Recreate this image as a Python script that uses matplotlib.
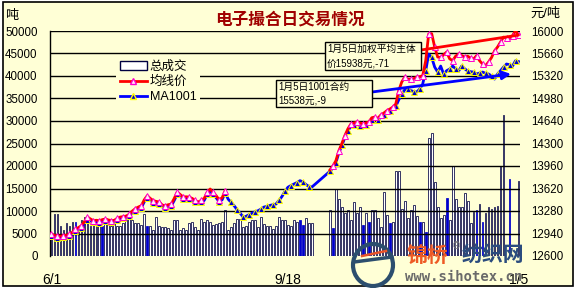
import numpy as np
import matplotlib
matplotlib.use("Agg")
import matplotlib.pyplot as plt
from matplotlib.patches import Rectangle, Ellipse
from matplotlib.lines import Line2D

plt.rcParams['font.family'] = ['Liberation Sans', 'Noto Sans CJK SC', 'DejaVu Sans']

# ---------------- data ----------------
title = "电子撮合日交易情况"
left_unit = "吨"
right_unit = "元/吨"
x_tick_days = [0, 79, 156]
x_tick_labels = ["6/1", "9/18", "1/5"]
series_names = ["总成交", "均线价", "MA1001"]

volume = [
    5000, 9250, 9250, 6660, 5800, 7250, 6660, 7620, 7620, 6360,
    7990, 8730, 7250, 6660, 7620, 6900, 7620, 6660, 7620, 7620,
    6660, 7620, 6660, 6660, 7400, 7990, 9250, 7990, 7250, 7250,
    6800, 9250, 6660, 6660, 5770, 8580, 6660, 6510, 6510, 6200,
    5770, 7990, 7990, 5770, 6300, 5770, 7250, 7620, 6510, 5770,
    8210, 7620, 7990, 7620, 7000, 7100, 7250, 7620, 10200, 5770,
    6510, 7250, 8140, 8140, 6510, 6660, 7620, 7990, 7990, 6500,
    8600, 7100, 6660, 6660, 6000, 6660, 8700, 7990, 7990, 6900,
    6660, 8000, 7620, 8000, 6880, 8360, 7250, 7250, 0, 0,
    0, 0, 0, 10200, 6140, 14870, 12650, 10950, 9470, 10200,
    8000, 11910, 9470, 10950, 6880, 9470, 7620, 10200, 10200, 8360,
    6500, 14280, 9100, 7250, 7620, 18870, 18870, 10360, 12210, 8360,
    10200, 11390, 9000, 7620, 7620, 5400, 26200, 27300, 16500, 10950,
    8360, 9100, 12900, 8000, 20100, 12580, 10950, 10950, 13900, 12210,
    7250, 9840, 10200, 11540, 7620, 9470, 10950, 10360, 10950, 11100,
    19900, 31400, 0, 17100, 0, 0, 16700,
]
blue_bar_days = [8, 17, 32, 83, 84, 94, 104, 106, 113, 123, 125, 132, 142, 144, 153]

avg_price = [
    12932, 12910, 12905, 12900, 12907, 12915, 12930, 12960, 13008, 13030,
    13058, 13120, 13189, 13160, 13133, 13140, 13133, 13150, 13159, 13145,
    13135, 13140, 13170, 13189, 13195, 13205, 13230, 13280, 13315, 13340,
    13360, 13450, 13511, 13470, 13436, 13425, 13416, 13370, 13360, 13375,
    13385, 13470, 13567, 13530, 13491, 13495, 13490, 13470, 13440, 13416,
    13440, 13470, 13560, 13612, 13560, 13511, 13450, 13480, 13587, None,
    None, None, None, None, None, None, None, None, None, None,
    None, None, None, None, None, None, None, None, None, None,
    None, None, None, None, None, None, None, None, None, None,
    None, None, None, 13900, 13960, 14040, 14191, 14300, 14420, 14520,
    14594, 14610, 14625, 14610, 14594, 14610, 14625, 14690, 14700, 14680,
    14730, 14760, 14795, 14820, 14850, 14896, 15100, 15229, 15304, 15274,
    15270, 15280, 15304, 15310, 15325, 15551, 15954, 15960, 15758, 15607,
    15600, 15640, 15682, 15580, 15551, 15620, 15652, 15630, 15607, 15620,
    15590, 15577, 15627, 15551, 15501, 15476, 15531, 15600, 15700, 15758,
    15833, 15908, 15890, 15878, 15929, 16004, 15938,
]

ma1001 = [
    12900, 12880, 12870, 12875, 12880, 12890, 12905, 12935, 12975, 13000,
    13030, 13090, 13150, 13130, 13110, 13110, 13105, 13120, 13130, 13120,
    13110, 13115, 13140, 13160, 13170, 13180, 13200, 13250, 13285, 13310,
    13330, 13420, 13480, 13440, 13405, 13395, 13385, 13340, 13330, 13345,
    13355, 13440, 13535, 13500, 13460, 13465, 13460, 13440, 13410, 13385,
    13410, 13440, 13530, 13580, 13530, 13480, 13420, 13450, 13555, 13460,
    13410, 13360, 13300, 13250, 13189, 13200, 13225, 13245, 13270, 13284,
    13310, 13340, 13350, 13365, 13375, 13385, 13440, 13500, 13580, 13640,
    13665, 13688, 13710, 13738, 13720, 13680, 13650, 13643, None, None,
    None, None, None, 13880, 13930, 14010, 14160, 14270, 14390, 14490,
    14560, 14580, 14590, 14570, 14560, 14575, 14590, 14650, 14670, 14650,
    14700, 14730, 14765, 14790, 14821, 14860, 14960, 15048, 15110, 15123,
    15100, 15085, 15078, 15123, 15199, 15400, 15652, 15600, 15455, 15380,
    15470, 15350, 15400, 15425, 15470, 15430, 15395, 15470, 15430, 15395,
    15385, 15380, 15350, 15365, 15380, 15360, 15350, 15320, 15274, 15350,
    15400, 15455, 15501, 15490, 15470, 15551, 15538,
]

note_main = "1月5日加权平均主体\n价15938元,-71"
note_1001 = "1月5日1001合约\n15538元,-9"

# ---------------- figure ----------------
W, H = 577, 288
BG = "#FFFFD6"
fig = plt.figure(figsize=(W / 100, H / 100), dpi=100, facecolor="white")
fig.add_artist(Rectangle((3 / W, 2 / H), 570 / W, 284 / H, transform=fig.transFigure,
                         facecolor=BG, edgecolor="black", lw=1.2, zorder=-10))

ax = fig.add_axes([50 / W, 32 / H, 470 / W, 225 / H])
ax.set_facecolor("none")
days = np.arange(len(volume))
vol = np.array(volume, dtype=float)
bar_colors = ["#0000CC" if d in blue_bar_days else "white" for d in days]
bar_edges = ["#0000CC" if d in blue_bar_days else "#000040" for d in days]
ax.bar(days, vol, width=0.6, color=bar_colors, edgecolor=bar_edges, linewidth=0.55, zorder=2)
ax.set_xlim(-0.5, len(volume) - 0.5)
ax.set_ylim(0, 50000)
yt = np.arange(0, 50001, 5000)
ax.set_yticks(yt)
ax.set_yticklabels([str(v) for v in yt])
for v in yt[1:]:
    ax.axhline(v, color="black", lw=1.0, zorder=3)
ax.tick_params(axis="y", length=0, pad=9, labelsize=8.3)
ax.set_xticks(x_tick_days)
ax.set_xticklabels(x_tick_labels)
ax.tick_params(axis="x", length=0, pad=12, labelsize=10)
for s in ["top", "right", "bottom"]:
    ax.spines[s].set_visible(False)
ax.spines["left"].set_linewidth(1.0)

ax2 = ax.twinx()
ax2.set_ylim(12600, 16000)
rt = np.arange(12600, 16001, 340)
ax2.set_yticks(rt)
ax2.set_yticklabels([str(v) for v in rt])
ax2.tick_params(axis="y", length=0, pad=8, labelsize=8.3)
for s in ["top", "right", "bottom", "left"]:
    ax2.spines[s].set_visible(False)

ma = np.array(ma1001, dtype=float)
ok = ~np.isnan(ma)
ax2.plot(days[ok], ma[ok], color="#0000FF", lw=2, marker="^", ms=4.5,
         mfc="#0000CC", mec="#FFFF00", mew=0.7, markevery=2, zorder=4, label=series_names[2])
avg = np.array(avg_price, dtype=float)
ax2.plot(days, avg, color="#FF0000", lw=2, marker="^", ms=4.5,
         mfc="#FFF0F8", mec="#FF00CC", mew=0.7, markevery=2, zorder=5, label=series_names[1])

# legend
handles = [Rectangle((0, 0), 1, 1, facecolor="white", edgecolor="#000040", lw=1),
           Line2D([], [], color="#FF0000", lw=2, marker="^", ms=5, mfc="#FFF0F8", mec="#FF00CC"),
           Line2D([], [], color="#0000FF", lw=2, marker="^", ms=5, mfc="#0000CC", mec="#FFFF00")]
leg = ax2.legend(handles, series_names, loc="upper left", bbox_to_anchor=(0.14, 0.885),
                 frameon=True, facecolor=BG, edgecolor="none", framealpha=1, fontsize=9,
                 handlelength=2.2, handletextpad=0.2, labelspacing=0.25, borderpad=0.3,
                 borderaxespad=0, fancybox=False)
leg.set_zorder(6)

# annotation boxes
def box(x0, y0, x1, y1, lines):
    fig.add_artist(Rectangle((x0 / W, 1 - y1 / H), (x1 - x0) / W, (y1 - y0) / H,
                             transform=fig.transFigure, facecolor=BG, edgecolor="black",
                             lw=1, zorder=8))
    n = len(lines)
    for k, t in enumerate(lines):
        yy = y0 + (y1 - y0) * (k + 0.5) / n
        fig.text((x0 + 2) / W, 1 - yy / H, t, fontsize=7, va="center", ha="left",
                 family=["Liberation Sans", "Noto Sans CJK SC"], zorder=9)

ax2.annotate("", xy=(len(avg_price) - 1, avg_price[-1]), xycoords="data",
             xytext=(421, H - 50), textcoords="figure pixels",
             arrowprops=dict(arrowstyle="-", color="#FF0000", lw=2, shrinkA=0, shrinkB=0),
             zorder=7, annotation_clip=False)
ax2.annotate("", xy=(511, H - 74), xycoords="figure pixels",
             xytext=(372, H - 92), textcoords="figure pixels",
             arrowprops=dict(arrowstyle="-|>,head_length=0.5,head_width=0.25", color="#0000FF",
                             lw=2, shrinkA=0, shrinkB=0),
             zorder=7, annotation_clip=False)
box(325, 42, 421, 70, note_main.split("\n"))
box(276, 80, 372, 107, note_1001.split("\n"))

# titles / units
fig.text(290 / W, 1 - 19 / H, title, ha="center", va="center", fontsize=12,
         fontweight="bold", color="#A00000", family=["Noto Sans CJK SC"])
fig.text(5 / W, 1 - 15 / H, left_unit, ha="left", va="center", fontsize=9.5,
         family=["Noto Sans CJK SC"])
fig.text(530 / W, 1 - 14 / H, right_unit, ha="left", va="center", fontsize=9.5,
         family=["Liberation Sans", "Noto Sans CJK SC"])

# watermark
fig.add_artist(Ellipse((373 / W, 1 - 265 / H), 40 / W, 42 / H, transform=fig.transFigure,
                       fill=False, edgecolor="#2C4E6E", lw=3, zorder=10))
fig.add_artist(Line2D([354 / W, 392 / W], [1 - 262 / H, 1 - 257 / H], transform=fig.transFigure,
                      color="#2C4E6E", lw=2.5, zorder=10))
fig.add_artist(Line2D([362 / W, 386 / W], [1 - 256 / H, 1 - 251 / H], transform=fig.transFigure,
                      color="#E8552A", lw=1.8, zorder=10))
fig.text(407 / W, 1 - 255 / H, "锦桥", fontsize=15, fontweight="bold", color="#EE5A24",
         va="center", ha="left", family=["Noto Sans CJK SC"], zorder=11)
fig.text(453 / W, 1 - 246 / H, "®", fontsize=7, color="#777777", va="center", ha="left", zorder=11)
fig.text(462 / W, 1 - 255 / H, "纺织网", fontsize=15, fontweight="bold", color="#2B4C7E",
         va="center", ha="left", family=["Noto Sans CJK SC"], zorder=11)
fig.text(405 / W, 1 - 277 / H, "www.sihotex.cn", fontsize=10, color="#6A6A6A",
         va="center", ha="left", family=["DejaVu Sans Mono"], fontweight="bold", zorder=11)

fig.savefig("out.png", dpi=100, facecolor="white")
